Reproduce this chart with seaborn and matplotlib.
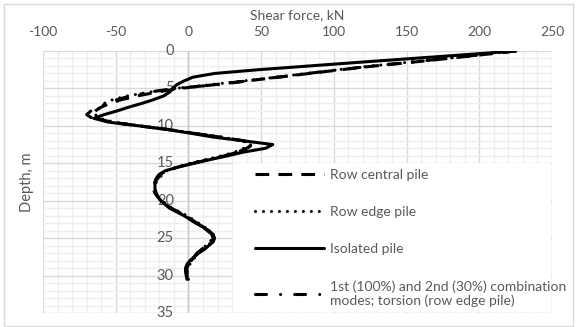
import matplotlib
matplotlib.use("Agg")
import matplotlib.pyplot as plt
import seaborn as sns
import pandas as pd
from matplotlib.patches import Rectangle
from matplotlib.lines import Line2D

# ---------------- data ----------------
depth = [0.0, 0.5, 1.0, 1.5, 2.0, 2.5, 3.0, 3.5, 4.0, 4.5, 5.0, 5.5, 6.0, 6.5,
         7.0, 7.5, 8.0, 8.5, 9.0, 9.5, 10.0, 10.5, 11.0, 11.5, 12.0, 12.5, 13.0,
         13.5, 14.0, 14.5, 15.0, 15.5, 16.0, 16.5, 17.0, 17.5, 18.0, 18.5, 19.0,
         19.5, 20.0, 20.5, 21.0, 21.5, 22.0, 22.5, 23.0, 23.5, 24.0, 24.5, 25.0,
         25.5, 26.0, 26.5, 27.0, 27.5, 28.0, 28.5, 29.0, 29.5, 30.0, 30.5]

row_central = [225, 202, 178, 154, 128, 105, 83, 62, 40, 18, -6, -22, -35, -46,
               -54, -60, -64, -66, -63, -53, -34, -14, 4, 22, 38, 44, 40,
               34, 25, 14, 3, -7, -15, -20, -22, -23, -24, -24, -23,
               -21, -19, -16, -12, -7, -2, 2, 6, 10, 14, 16, 17,
               16, 13, 9, 6, 4, 2, 0, -1, -1, -1, 0]

row_edge = [225, 200, 176, 151, 126, 103, 81, 60, 38, 15, -9, -27, -42, -52,
            -58, -61, -63, -64, -61, -51, -33, -13, 5, 23, 37, 43, 38,
            32, 23, 12, 1, -8, -15, -18, -20, -22, -23, -23, -22,
            -21, -18, -15, -11, -6, -1, 3, 7, 11, 14, 16, 16,
            15, 12, 9, 7, 5, 2, 1, 0, -1, -1, 0]

isolated = [225, 190, 154, 118, 83, 48, 18, 3, -3, -8, -11, -13, -17, -24,
            -32, -41, -49, -58, -65, -55, -34, -14, 2, 17, 38, 58, 53,
            38, 27, 15, 4, -7, -16, -20, -22, -23, -23, -23, -22,
            -21, -19, -16, -13, -8, -3, 1, 5, 10, 14, 17, 18,
            17, 14, 11, 7, 4, 1, -1, -2, -2, -1.5, -1]

combination = [225, 201, 177, 152, 127, 104, 82, 61, 40, 20, -10, -27, -40, -49,
               -56, -62, -67, -70, -66, -54, -34, -14, 4, 22, 38, 45, 40,
               34, 25, 14, 3, -7, -15, -19, -21, -23, -24, -24, -23,
               -21, -19, -16, -12, -7, -2, 2, 6, 10, 13, 16, 17,
               16, 13, 9, 6, 4, 2, 0, -1, -1, -1, 0]

series_names = ["Row central pile", "Row edge pile", "Isolated pile",
                "1st (100%) and 2nd (30%) combination\nmodes; torsion (row edge pile)"]

x_ticks = [-100, -50, 0, 50, 100, 150, 200, 250]
y_ticks = [0, 5, 10, 15, 20, 25, 30, 35]
y_tick_labels = ["0", "5", "10", "15", "20", "25", "30", "35"]
x_title = "Shear force, kN"
y_title = "Depth, m"

# ---------------- style ----------------
sns.set_style("white")
plt.rcParams["font.family"] = ["Lato", "DejaVu Sans"]
TXT = "#595959"

W, H = 579, 327
fig = plt.figure(figsize=(W / 100, H / 100), dpi=100)
ax = fig.add_axes([43 / W, 1 - 313 / H, (552 - 43) / W, (313 - 51) / H])

df = pd.DataFrame({"depth": depth, "central": row_central, "edge": row_edge,
                   "iso": isolated, "comb": combination})

LW = 2.2
styles = [
    ("central", series_names[0], dict(dashes=(4.5, 3.0), cap="butt")),
    ("edge", series_names[1], dict(dashes=(0.01, 2.6), cap="round")),
    ("iso", series_names[2], dict(dashes=None, cap="round")),
    ("comb", series_names[3], dict(dashes=(3.6, 4.6, 0.01, 4.6), cap="round")),
]

handles = []
for col, name, st in styles:
    sns.lineplot(data=df, x=col, y="depth", sort=False, estimator=None,
                 color="black", lw=LW, ax=ax, zorder=2)
    ln = ax.lines[-1]
    if st["dashes"] is not None:
        ln.set_dashes(st["dashes"])
    ln.set_dash_capstyle(st["cap"])
    ln.set_solid_capstyle("round")
    h = Line2D([], [], color="black", lw=LW)
    if st["dashes"] is not None:
        h.set_dashes(st["dashes"])
    h.set_dash_capstyle(st["cap"])
    handles.append(h)

ax.set_xlim(-100, 250)
ax.set_ylim(35, 0)

# grid
ax.set_xticks(x_ticks)
ax.set_xticks(list(range(-100, 251, 10)), minor=True)
ax.set_yticks(y_ticks)
ax.set_yticks(list(range(0, 36)), minor=True)
ax.grid(True, which="major", color="#d9d9d9", lw=1.0)
ax.grid(True, which="minor", color="#efefef", lw=1.0)
ax.set_axisbelow(True)
for s in ax.spines.values():
    s.set_visible(False)

ax.xaxis.tick_top()
ax.tick_params(axis="x", which="both", length=0, pad=9, labelsize=10,
               labelcolor=TXT)
ax.tick_params(axis="y", which="both", length=0, labelleft=False)
ax.set_xticklabels([str(v) for v in x_ticks])
ax.set_xlabel("")
ax.set_ylabel("")

# vertical axis at x = 0
ax.axvline(0, color="#c8c8c8", lw=1.0, zorder=1)
for yv, lab in zip(y_ticks, y_tick_labels):
    ax.text(-10, yv, lab, ha="right", va="center", fontsize=10.5, color=TXT,
            zorder=1.5)

fig.text(297 / W, 1 - 15.5 / H, x_title, ha="center", va="center",
         fontsize=10, color=TXT)
fig.text(27 / W, 1 - 182 / H, y_title, ha="center", va="center",
         rotation=90, fontsize=10.5, color=TXT)

# legend background
ax.add_patch(Rectangle((233 / W, 1 - 311.5 / H), (550.5 - 233) / W,
                       (311.5 - 163) / H, transform=fig.transFigure,
                       facecolor="white", edgecolor="none", zorder=3))
leg = ax.legend(handles, series_names, loc="upper left",
                bbox_to_anchor=(255 / W, 1 - 169 / H),
                bbox_transform=fig.transFigure, frameon=False,
                fontsize=10, labelcolor=TXT, handlelength=5.0,
                handletextpad=0.4, labelspacing=1.8, borderpad=0,
                borderaxespad=0)
leg.set_zorder(5)

# chart border
fig.patches.append(Rectangle((4 / W, 1 - 325.5 / H), (573 - 4) / W,
                             (325.5 - 4) / H, transform=fig.transFigure,
                             facecolor="none", edgecolor="#d9d9d9", lw=1.0))

fig.savefig("out.png", dpi=100, facecolor="white")
